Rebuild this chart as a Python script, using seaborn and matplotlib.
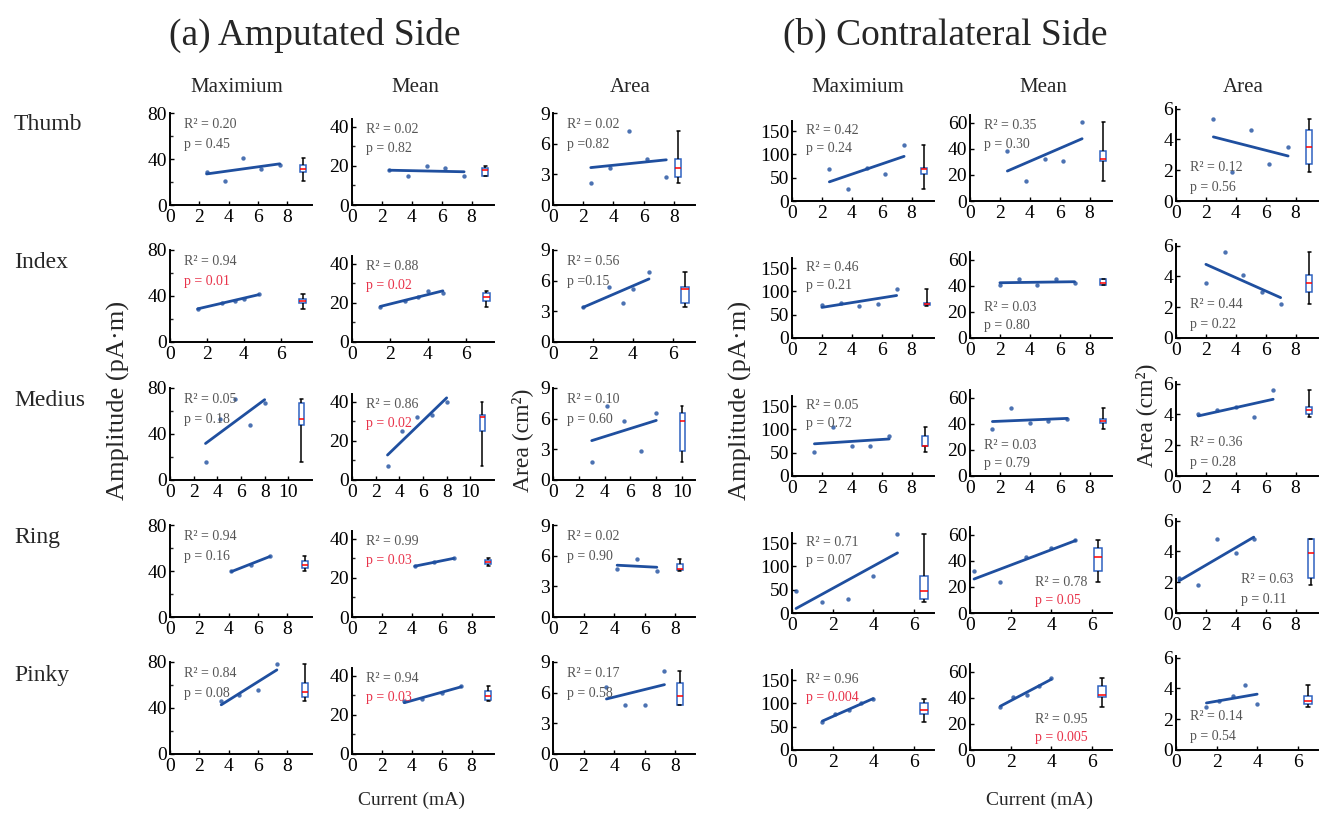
import matplotlib
matplotlib.use("Agg")
import matplotlib.pyplot as plt
import seaborn as sns
import numpy as np

# ---------------- data ----------------
fingers = ["Thumb", "Index", "Medius", "Ring", "Pinky"]
measures = ["Maximium", "Mean", "Area"]

# Amputated side
amp_x_thumb = [2.5, 3.75, 5.0, 6.25, 7.5]
amp_max_thumb = [29, 21, 41, 31, 35]
amp_mean_thumb = [18, 15, 20, 19, 15]
amp_area_thumb = [2.2, 3.6, 7.2, 4.5, 2.7]

amp_x_index = [1.5, 2.8, 3.5, 4.0, 4.8]
amp_max_index = [29, 34, 36, 37, 42]
amp_mean_index = [18, 21, 23, 26, 25]
amp_area_index = [3.4, 5.4, 3.8, 5.2, 6.8]

amp_x_medius = [3.0, 4.2, 5.5, 6.8, 8.0]
amp_max_medius = [16, 53, 70, 48, 67]
amp_mean_medius = [7, 25, 32, 33, 40]
amp_area_medius = [1.8, 7.2, 5.8, 2.8, 6.6]

amp_x_ring = [4.2, 5.5, 6.8]
amp_max_ring = [40, 45, 53]
amp_mean_ring = [26, 28, 30]
amp_area_ring = [4.7, 5.7, 4.5]

amp_x_pinky = [3.5, 4.7, 6.0, 7.3]
amp_max_pinky = [46, 51, 56, 78]
amp_mean_pinky = [27, 28, 31, 35]
amp_area_pinky = [6.6, 4.8, 4.8, 8.1]

# Contralateral side
con_x_thumb = [2.5, 3.75, 5.0, 6.25, 7.5]
con_max_thumb = [68, 25, 72, 58, 120]
con_mean_thumb = [38, 15, 32, 31, 61]
con_area_thumb = [5.3, 1.9, 4.6, 2.4, 3.5]

con_x_index = [2.0, 3.25, 4.5, 5.75, 7.0]
con_max_index = [72, 75, 68, 73, 105]
con_mean_index = [41, 45, 41, 45, 42]
con_area_index = [3.6, 5.6, 4.1, 3.0, 2.2]

con_x_medius = [1.5, 2.75, 4.0, 5.25, 6.5]
con_max_medius = [52, 105, 65, 65, 85]
con_mean_medius = [36, 52, 41, 42, 44]
con_area_medius = [4.0, 4.3, 4.5, 3.8, 5.6]

con_x_ring = [0.2, 1.5, 2.75, 4.0, 5.2]
con_max_ring = [47, 24, 30, 80, 170]
con_mean_ring = [32, 24, 43, 50, 56]
con_area_ring = [2.3, 1.8, 4.8, 3.9, 4.8]

con_x_pinky = [1.5, 2.1, 2.8, 3.4, 4.0]
con_max_pinky = [60, 78, 85, 100, 110]
con_mean_pinky = [33, 41, 42, 49, 55]
con_area_pinky = [2.8, 3.2, 3.5, 4.2, 3.0]

# statistics text
amp_r2 = [[0.20, 0.02, 0.02], [0.94, 0.88, 0.56], [0.05, 0.86, 0.10],
          [0.94, 0.99, 0.02], [0.84, 0.94, 0.17]]
amp_p = [["0.45", "0.82", "0.82"], ["0.01", "0.02", "0.15"], ["0.18", "0.02", "0.60"],
         ["0.16", "0.03", "0.90"], ["0.08", "0.03", "0.58"]]
con_r2 = [[0.42, 0.35, 0.12], [0.46, 0.03, 0.44], [0.05, 0.03, 0.36],
          [0.71, 0.78, 0.63], [0.96, 0.95, 0.14]]
con_p = [["0.24", "0.30", "0.56"], ["0.21", "0.80", "0.22"], ["0.72", "0.79", "0.28"],
         ["0.07", "0.05", "0.11"], ["0.004", "0.005", "0.54"]]

amp_data = [
    (amp_x_thumb, [amp_max_thumb, amp_mean_thumb, amp_area_thumb]),
    (amp_x_index, [amp_max_index, amp_mean_index, amp_area_index]),
    (amp_x_medius, [amp_max_medius, amp_mean_medius, amp_area_medius]),
    (amp_x_ring, [amp_max_ring, amp_mean_ring, amp_area_ring]),
    (amp_x_pinky, [amp_max_pinky, amp_mean_pinky, amp_area_pinky]),
]
con_data = [
    (con_x_thumb, [con_max_thumb, con_mean_thumb, con_area_thumb]),
    (con_x_index, [con_max_index, con_mean_index, con_area_index]),
    (con_x_medius, [con_max_medius, con_mean_medius, con_area_medius]),
    (con_x_ring, [con_max_ring, con_mean_ring, con_area_ring]),
    (con_x_pinky, [con_max_pinky, con_mean_pinky, con_area_pinky]),
]

# ---------------- layout / style ----------------
W, H = 1322, 814
BLUE = "#1f4f9f"
BOXBLUE = "#2f62c0"
GRAY = "#555555"
RED = "#e8334a"

LEFTS = [[170, 352, 553], [792, 970, 1176]]
WIDTH = 142
BASES = [[205, 342, 480, 617, 754], [201, 338, 476, 613, 750]]
HEIGHTS = [[92, 86, 92], [80, 86, 94]]
YTOP = [[80, 44, 9], [172, 66, 6.1]]
YTICKS = [[[0, 40, 80], [0, 20, 40], [0, 3, 6, 9]],
          [[0, 50, 100, 150], [0, 20, 40, 60], [0, 2, 4, 6]]]
YMINOR = [[[20, 60], [10, 30], []], [[], [], []]]

# (xmax, last tick, box position) per panel
XSPEC = [
    [[(9.7, 8, 9.1), (9.5, 8, 8.9), (9.4, 8, 8.3)],
     [(7.7, 6, 7.2), (7.5, 6, 7.1), (7.1, 6, 6.6)],
     [(12.0, 10, 11.1), (12.0, 10, 11.0), (11.0, 10, 10.0)],
     [(9.7, 8, 9.2), (9.5, 8, 9.1), (9.3, 8, 8.3)],
     [(9.7, 8, 9.2), (9.5, 8, 9.1), (9.3, 8, 8.3)]],
    [[(9.5, 8, 8.8), (9.5, 8, 8.9), (9.5, 8, 8.9)],
     [(9.5, 8, 9.0), (9.5, 8, 8.9), (9.5, 8, 8.9)],
     [(9.5, 8, 8.9), (9.5, 8, 8.9), (9.5, 8, 8.9)],
     [(7.0, 6, 6.5), (7.0, 6, 6.3), (9.5, 8, 9.0)],
     [(7.0, 6, 6.5), (7.0, 6, 6.5), (7.0, 6, 6.5)]],
]
TEXTPOS = [
    [["tl"] * 3 for _ in range(5)],
    [["tl", "tl", "bl"], ["tl", "bl", "bl"], ["tl", "bl", "bl"],
     ["tl", "br", "br"], ["tl", "br", "bl"]],
]
TXY = {"tl": (0.1, 0.88, 0.66), "bl": (0.1, 0.36, 0.14), "br": (0.46, 0.36, 0.14)}

sns.set_style("ticks")
plt.rcParams["font.family"] = ["Liberation Serif", "DejaVu Serif"]

fig = plt.figure(figsize=(W / 100, H / 100), dpi=100)


def rect(left, base, width, height):
    return [left / W, 1 - base / H, width / W, height / H]


for s, (side_data, r2s, ps) in enumerate([(amp_data, amp_r2, amp_p), (con_data, con_r2, con_p)]):
    for r, (xs, ys_list) in enumerate(side_data):
        for c, ys in enumerate(ys_list):
            ax = fig.add_axes(rect(LEFTS[s][c], BASES[s][r], WIDTH, HEIGHTS[s][c]))
            xmax, lastt, bpos = XSPEC[s][r][c]
            sns.regplot(x=np.array(xs, float), y=np.array(ys, float), ax=ax, ci=None,
                        color=BLUE, scatter_kws={"s": 10, "linewidths": 0, "clip_on": False},
                        line_kws={"lw": 2.0})
            sns.boxplot(x=[bpos] * len(ys), y=ys, native_scale=True, orient="x", ax=ax,
                        width=0.4, color="white", linecolor=BOXBLUE, linewidth=1.1,
                        whis=(0, 100),
                        medianprops={"color": "red"},
                        whiskerprops={"color": "black"},
                        capprops={"color": "black"})
            ax.set_xlim(0, xmax)
            ax.set_ylim(0, YTOP[s][c])
            ax.set_xticks(list(range(0, lastt + 1, 2)))
            ax.set_yticks(YTICKS[s][c])
            if YMINOR[s][c]:
                ax.set_yticks(YMINOR[s][c], minor=True)
            ax.set_xlabel("")
            ax.set_ylabel("")
            ax.tick_params(axis="both", which="major", direction="in", length=3, width=1,
                           labelsize=14, colors="black")
            ax.tick_params(axis="x", which="major", pad=3)
            ax.tick_params(axis="y", which="major", pad=2)
            ax.tick_params(axis="y", which="minor", direction="in", length=2, width=1)
            ax.spines[["top", "right"]].set_visible(False)
            for sp in ["left", "bottom"]:
                ax.spines[sp].set_linewidth(1.4)
                ax.spines[sp].set_color("black")
            tx, ty1, ty2 = TXY[TEXTPOS[s][r][c]]
            ax.text(tx, ty1, f"R\u00b2 = {r2s[r][c]:.2f}", transform=ax.transAxes,
                    fontsize=10, color=GRAY, va="center")
            pstr = ps[r][c]
            pcol = RED if float(pstr) <= 0.05 else GRAY
            ptxt = f"p ={pstr}" if (s == 0 and c == 2 and r in (0, 1)) else f"p = {pstr}"
            ax.text(tx, ty2, ptxt, transform=ax.transAxes, fontsize=10, color=pcol, va="center")


def ftext(x, y, txt, **kw):
    fig.text(x / W, 1 - y / H, txt, **kw)


ftext(315, 35, "(a) Amputated Side", fontsize=27, ha="center", va="center")
ftext(945, 35, "(b) Contralateral Side", fontsize=27, ha="center", va="center")
for x, t in zip([237, 415, 630, 858, 1043, 1243], measures * 2):
    ftext(x, 88, t, fontsize=15, ha="center", va="center")
for y, t in zip([125, 262, 400, 538, 675], fingers):
    ftext(14, y, t, fontsize=17, ha="left", va="center")
ftext(118, 400, "Amplitude (pA\u00b7m)", fontsize=19, rotation=90, ha="center", va="center")
ftext(740, 400, "Amplitude (pA\u00b7m)", fontsize=19, rotation=90, ha="center", va="center")
ftext(522, 440, "Area (cm\u00b2)", fontsize=17, rotation=90, ha="center", va="center")
ftext(1146, 415, "Area (cm\u00b2)", fontsize=17, rotation=90, ha="center", va="center")
ftext(412, 800, "Current (mA)", fontsize=14, ha="center", va="center")
ftext(1040, 800, "Current (mA)", fontsize=14, ha="center", va="center")

fig.savefig("out.png", dpi=100, facecolor="white")
